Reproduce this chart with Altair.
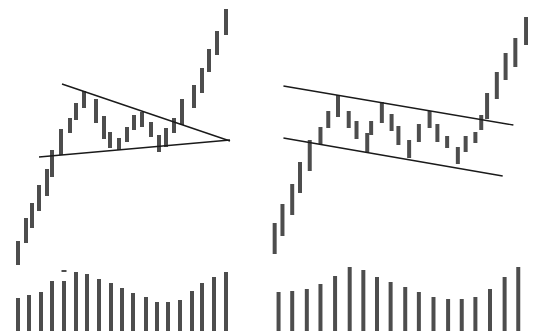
import altair as alt
import pandas as pd

# ---- Left panel: pennant / symmetrical triangle ----
left_t = [18, 26, 32, 39, 47, 52, 61, 70, 76, 84, 96, 104, 110, 119, 127, 134,
          142, 151, 159, 166, 174, 182, 194, 202, 209, 217, 226]
left_high = [93, 116, 131, 149, 165, 184, 205, 216, 231, 243, 235, 218, 202, 196,
             207, 219, 222, 212, 199, 206, 216, 235, 249, 266, 285, 303, 325]
left_low = [69, 91, 106, 123, 138, 157, 179, 201, 214, 226, 211, 195, 186, 184,
            192, 204, 207, 197, 182, 187, 201, 209, 226, 241, 262, 279, 299]

# ---- Right panel: flag ----
right_t = [275, 283, 293, 301, 311, 322, 330, 340, 351, 359, 370, 374, 385, 395,
           402, 413, 423, 434, 442, 452, 463, 471, 481, 487, 493, 503, 512, 522, 533]
right_high = [111, 130, 150, 172, 194, 207, 223, 239, 223, 213, 201, 213, 232, 220,
              208, 194, 210, 223, 210, 198, 187, 198, 202, 219, 241, 262, 281, 296, 317]
right_low = [80, 98, 119, 141, 163, 190, 206, 217, 206, 195, 182, 199, 211, 203,
             189, 176, 192, 206, 192, 186, 170, 182, 191, 204, 215, 235, 254, 267, 289]

# ---- Volume ----
vol_base = 3
left_vol_t = [18, 29, 41, 52, 64, 76, 87, 99, 111, 122, 133, 146, 157, 168, 180,
              192, 202, 214, 226]
left_vol = [33, 36, 39, 50, 50, 59, 57, 52, 48, 43, 38, 34, 29, 29, 31, 40, 48, 54, 59]
right_vol_t = [279, 293, 308, 322, 337, 352, 366, 380, 394, 409, 423, 438, 453, 467,
               481, 496, 511, 525]
right_vol = [39, 40, 42, 47, 55, 64, 61, 54, 49, 44, 39, 34, 32, 32, 34, 42, 54, 64]

# ---- Trend lines (start t, start price, end t, end price) ----
line_t1 = [62, 39, 284, 284]
line_p1 = [250, 177, 248, 196]
line_t2 = [230, 230, 520, 509]
line_p2 = [193, 194, 209, 158]

# stray mark above a volume bar
dash_t1 = [61.5]
dash_t2 = [66.5]
dash_p = [63]

price_df = pd.DataFrame({
    "t": left_t + right_t,
    "high": left_high + right_high,
    "low": left_low + right_low,
})
vol_df = pd.DataFrame({
    "t": left_vol_t + right_vol_t,
    "vol": left_vol + right_vol,
})
vol_df["base"] = vol_base
vol_df["top"] = vol_df["base"] + vol_df["vol"]
line_df = pd.DataFrame({"t1": line_t1, "p1": line_p1, "t2": line_t2, "p2": line_p2})
dash_df = pd.DataFrame({"t1": dash_t1, "t2": dash_t2, "p": dash_p})

# piecewise time scale: left panel 1:1, right panel slightly compressed to fit
xs = alt.Scale(domain=[8, 262, 535], range=[0, 254, 520], nice=False, zero=False)
ys = alt.Scale(domain=[0, 326], nice=False, zero=False)

BAR = "#4d4d4d"

price = alt.Chart(price_df).mark_rule(strokeWidth=4, color=BAR).encode(
    x=alt.X("t:Q", scale=xs, axis=None),
    y=alt.Y("low:Q", scale=ys, axis=None),
    y2="high:Q",
)

volume = alt.Chart(vol_df).mark_rule(strokeWidth=4, color=BAR).encode(
    x=alt.X("t:Q", scale=xs, axis=None),
    y=alt.Y("base:Q", scale=ys, axis=None),
    y2="top:Q",
)

lines = alt.Chart(line_df).mark_rule(strokeWidth=1.4, color="#1a1a1a").encode(
    x=alt.X("t1:Q", scale=xs, axis=None),
    x2="t2:Q",
    y=alt.Y("p1:Q", scale=ys, axis=None),
    y2="p2:Q",
)

dash = alt.Chart(dash_df).mark_rule(strokeWidth=2, color=BAR).encode(
    x=alt.X("t1:Q", scale=xs, axis=None),
    x2="t2:Q",
    y=alt.Y("p:Q", scale=ys, axis=None),
)

chart = alt.layer(volume, price, lines, dash).properties(
    width=520,
    height=326,
    autosize=alt.AutoSizeParams(type="none"),
    padding=0,
    background="white",
).configure_view(stroke=None)

chart.save("out.html", embed_options={"renderer": "svg", "actions": False})
